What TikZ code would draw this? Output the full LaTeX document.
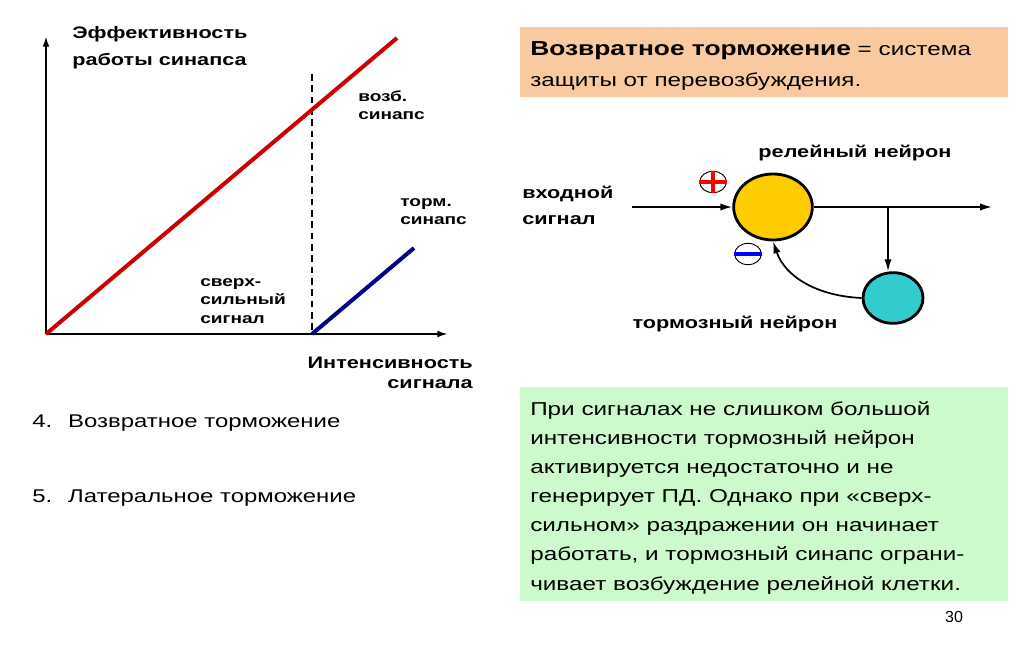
\documentclass[tikz,border=0pt]{standalone}
\usepackage{fontspec}
\setmainfont{Liberation Sans}[FakeStretch=1.3]
\newfontfamily\numfont{Liberation Sans}
\usetikzlibrary{arrows.meta, positioning, shapes.geometric}
\definecolor{excred}{HTML}{CC0000}
\definecolor{inhblue}{HTML}{000088}
\definecolor{boxorange}{HTML}{F9C9A0}
\definecolor{boxgreen}{HTML}{CCFACC}
\definecolor{relaygold}{HTML}{FFCC00}
\definecolor{inhteal}{HTML}{33CCCC}
\tikzset{
  axis/.style={-{Latex[length=8pt, width=5pt]}, line width=1.4pt},
  excline/.style={line width=3pt, excred},
  inhline/.style={line width=3pt, inhblue},
  thresh/.style={line width=1.1pt, dash pattern=on 5pt off 3.5pt},
  glab/.style={font=\bfseries\fontsize{11}{13.5}\selectfont, align=left, inner sep=0pt},
  biglab/.style={font=\bfseries\fontsize{12.5}{20.25}\selectfont, align=left, inner sep=0pt},
  listitem/.style={font=\fontsize{13.8}{17}\selectfont, inner sep=0pt, anchor=base west},
  infobox/.style={rectangle, anchor=north west, minimum width=366pt, inner sep=0pt},
  infotext/.style={anchor=north west, inner sep=0pt, align=left},
  neuron/.style={ellipse, draw, line width=2.1pt},
  sign/.style={ellipse, draw, line width=0.7pt, fill=white, minimum width=20pt, minimum height=16pt, inner sep=0pt},
  nlab/.style={font=\bfseries\fontsize{12.5}{19}\selectfont, inner sep=0pt},
  sigarr/.style={-{Latex[length=9pt, width=5.5pt]}, line width=1.3pt},
}
\begin{document}
\begin{tikzpicture}[x=0.75pt, y=-0.75pt]
  \fill[white] (0,0) rectangle (1024,649);
  \useasboundingbox (0,0) rectangle (1024,649);
  % graph
  \coordinate (orig) at (46,334);
  \coordinate (thr) at (312,334);
  \draw[axis] (orig) -- (46,36);
  \draw[axis] (orig) -- (448,334);
  \draw[thresh] (312,74) -- (thr);
  \draw[excline] (orig) -- (397,38);
  \draw[inhline] (thr) -- (414,248);
  \node[biglab, anchor=north west] (ylab) at (72,26) {Эффективность\\работы синапса};
  \node[glab, anchor=north west] (exclab) at (358,90) {возб.\\синапс};
  \node[glab, anchor=north west] (inhlab) at (400,198) {торм.\\синапс};
  \node[glab, anchor=north west, font=\bfseries\fontsize{11}{13.9}\selectfont] (stronglab) at (200,278) {сверх-\\сильный\\сигнал};
  \node[font=\bfseries\fontsize{12.5}{15}\selectfont, align=right, inner sep=0pt, anchor=north east] (xlab) at (473,357) {Интенсивность\\сигнала};
  \node[listitem] (item4) at (32,427) {4.\hspace{12pt}Возвратное торможение};
  \node[listitem] (item5) at (32,502) {5.\hspace{12pt}Латеральное торможение};
  % boxes
  \node[infobox, fill=boxorange, minimum height=52.5pt] (defbox) at (520,27) {};
  \node[infotext, font=\fontsize{14}{23.25}\selectfont] (deftext) at (530,41)
    {{\bfseries\fontsize{15.2}{23.25}\selectfont Возвратное торможение} = система\\защиты от перевозбуждения.};
  \node[infobox, fill=boxgreen, minimum height=160pt] (notebox) at (520,387) {};
  \node[infotext, font=\fontsize{14}{21.875}\selectfont] (notetext) at (530,401)
    {При сигналах не слишком большой\\интенсивности тормозный нейрон\\активируется недостаточно и не\\генерирует ПД. Однако при «сверх-\\сильном» раздражении он начинает\\работать, и тормозный синапс ограни-\\чивает возбуждение релейной клетки.};
  \node[font=\numfont\fontsize{12}{14}\selectfont, inner sep=0pt, anchor=base] (pagenum) at (954,622) {30};
  % circuit
  \node[neuron, fill=relaygold, minimum width=59pt, minimum height=49.5pt] (relay) at (773,207) {};
  \node[neuron, fill=inhteal, minimum width=45pt, minimum height=38pt] (inhib) at (893,298) {};
  \coordinate (insig) at (632,207);
  \coordinate (outsig) at (992,207);
  \coordinate (branch) at (888,207);
  \draw[sigarr] (insig) -- (relay.west);
  \draw[sigarr] (relay.east) -- (outsig);
  \draw[sigarr] (branch) -- (branch |- inhib.north);
  \draw[sigarr] (inhib.west) .. controls +(-45,-2) and +(12,35) .. (relay.south);
  \node[sign] (plus) at (713,182) {};
  \draw[line width=2.8pt, red] (plus.north) -- (plus.south) (plus.west) -- (plus.east);
  \node[sign] (minus) at (748,254) {};
  \draw[line width=2.8pt, blue] (minus.west) -- (minus.east);
  \node[nlab, anchor=base] (relaylab) at (855,158) {релейный нейрон};
  \node[nlab, anchor=base] (inhiblab) at (735,328) {тормозный нейрон};
  \node[nlab, align=left, anchor=north west] (inlab) at (522,186) {входной\\сигнал};
\end{tikzpicture}
\end{document}
